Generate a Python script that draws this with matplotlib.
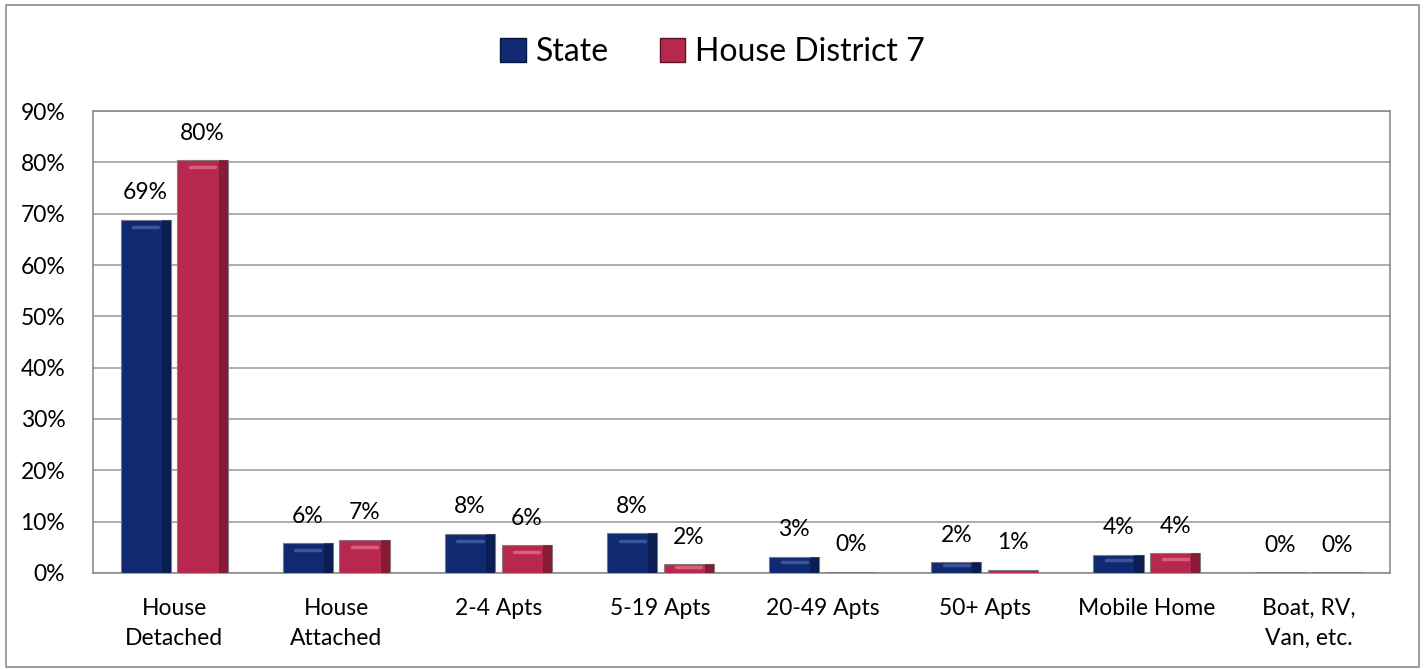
import matplotlib
matplotlib.use("Agg")
import matplotlib.pyplot as plt
import matplotlib.patches as mpatches
import numpy as np

categories = ["House\nDetached", "House\nAttached", "2-4 Apts", "5-19 Apts",
              "20-49 Apts", "50+ Apts", "Mobile Home", "Boat, RV,\nVan, etc."]
state = [68.8, 5.8, 7.6, 7.7, 3.1, 2.1, 3.5, 0.1]
district = [80.4, 6.4, 5.4, 1.7, 0.2, 0.6, 3.8, 0.1]
state_labels = ["69%", "6%", "8%", "8%", "3%", "2%", "4%", "0%"]
district_labels = ["80%", "7%", "6%", "2%", "0%", "1%", "4%", "0%"]
yticks = [0, 10, 20, 30, 40, 50, 60, 70, 80, 90]

plt.rcParams["font.family"] = ["Lato", "DejaVu Sans"]

fig = plt.figure(figsize=(14.25, 6.7), dpi=100)
fig.patch.set_facecolor("white")
# outer chart border
fig.add_artist(mpatches.Rectangle((0.004, 0.004), 0.992, 0.989, transform=fig.transFigure,
                                  fill=False, edgecolor="#8c8c8c", linewidth=1.2))

ax = fig.add_axes([0.0653, 0.1448, 0.9101, 0.6895])

x = np.arange(len(categories))
w = 0.31
gap = 0.02
navy, navy_dark = "#0f2a70", "#07153d"
crimson, crimson_dark = "#b7284f", "#5e1024"

b1 = ax.bar(x - w / 2 - gap, state, w, color=navy, edgecolor="#7a7a8a", linewidth=0.8, zorder=3)
b2 = ax.bar(x + w / 2 + gap, district, w, color=crimson, edgecolor="#8a7a7e", linewidth=0.8, zorder=3)

# simple bevel look: darker right strip and light highlight near top
for bars, dark, hl in [(b1, navy_dark, "#4a6ab0"), (b2, crimson_dark, "#e8768f")]:
    for b in bars:
        h = b.get_height()
        if h < 1:
            continue
        bx, bw = b.get_x(), b.get_width()
        ax.add_patch(mpatches.Rectangle((bx + bw * 0.82, 0), bw * 0.18, h, color=dark,
                                        alpha=0.55, zorder=4, linewidth=0))
        hy = h - min(1.4, h * 0.3)
        ax.plot([bx + bw * 0.25, bx + bw * 0.75], [hy, hy], color=hl, lw=2.5,
                alpha=0.7, zorder=5, solid_capstyle="round")

for bars, labs in [(b1, state_labels), (b2, district_labels)]:
    for b, lab in zip(bars, labs):
        ax.text(b.get_x() + b.get_width() / 2, b.get_height() + 5.3, lab,
                ha="center", va="center", fontsize=16.5, color="black", zorder=6)

ax.set_ylim(0, 90)
ax.set_xlim(-0.5, len(categories) - 0.5)
ax.set_yticks(yticks)
ax.set_yticklabels([f"{v}%" for v in yticks], fontsize=16.5)
ax.set_xticks(x)
ax.set_xticklabels(categories, fontsize=16.5, linespacing=1.55)
ax.tick_params(axis="x", length=0, pad=18)
ax.tick_params(axis="y", length=0, pad=20)
ax.yaxis.grid(True, color="#a0a0a0", linewidth=1.2, zorder=0)
ax.set_axisbelow(True)
for s in ax.spines.values():
    s.set_color("#8c8c8c")
    s.set_linewidth(1.2)

# legend with square markers
handles = [mpatches.Patch(facecolor=navy, edgecolor=navy_dark, label="State"),
           mpatches.Patch(facecolor=crimson, edgecolor=crimson_dark, label="House District 7")]
fig.legend(handles=handles, loc="center", bbox_to_anchor=(0.5, 0.922), ncol=2,
           frameon=False, fontsize=23, handlelength=0.8, handleheight=0.8,
           handletextpad=0.3, columnspacing=1.6)

plt.savefig("out.png", dpi=100, facecolor=fig.get_facecolor())
plt.close()
